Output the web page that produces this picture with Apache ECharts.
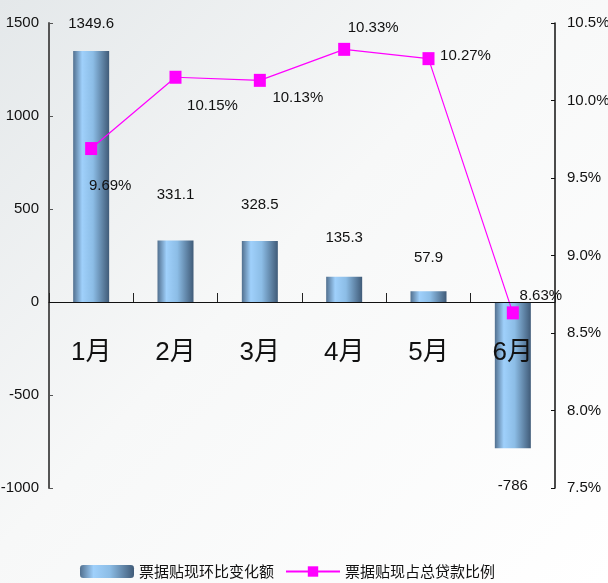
<!DOCTYPE html>
<html>
<head>
<meta charset="utf-8">
<script src="https://cdn.jsdelivr.net/npm/echarts@6/dist/echarts.min.js"></script>
<style>
  html, body { margin: 0; padding: 0; background: #fff; }
  #main { width: 608px; height: 583px; }
</style>
</head>
<body>
<div id="main"></div>
<script>
const months = ['1月', '2月', '3月', '4月', '5月', '6月']
const changeAmount = [1349.6, 331.1, 328.5, 135.3, 57.9, -786]
const loanRatio = [9.69, 10.15, 10.13, 10.33, 10.27, 8.63]
const leftTicks = { min: -1000, max: 1500, step: 500 }
const rightTicks = { min: 7.5, max: 10.5, step: 0.5 }

// label nudges
const barLabelShift = [-15, -33, -24, -26, -21, 25]
const lineLabelShift = [[19, 37], [37, 29], [38, 18], [29, -21], [37, -3], [28, -17]]

const FONT = '"Liberation Sans", Arial, "Noto Sans CJK SC", sans-serif'

const chart = echarts.init(document.getElementById('main'))

const barGradient = new echarts.graphic.LinearGradient(0, 0, 1, 0, [
  { offset: 0, color: '#52708f' },
  { offset: 0.25, color: '#9fd0fb' },
  { offset: 0.55, color: '#8cbde6' },
  { offset: 1, color: '#405b78' }
])

const barData = changeAmount.map((v, i) => ({
  value: v,
  label: {
    position: v < 0 ? 'bottom' : 'top',
    offset: [0, barLabelShift[i]]
  }
}))

const lineData = loanRatio.map((v, i) => ({
  value: v,
  label: { offset: lineLabelShift[i] }
}))

chart.setOption({
  backgroundColor: new echarts.graphic.LinearGradient(0, 0, 1, 1, [
    { offset: 0, color: '#e4e8ea' },
    { offset: 0.45, color: '#f7f8f8' },
    { offset: 1, color: '#ffffff' }
  ]),
  textStyle: { fontFamily: FONT },
  grid: { left: 49, right: 53, top: 23, bottom: 95, outerBoundsMode: 'none' },
  legend: {
    bottom: -1,
    left: 75,
    itemWidth: 54,
    itemHeight: 13,
    itemGap: 11,
    textStyle: { fontSize: 15, color: '#111', fontFamily: '"Noto Sans CJK SC", sans-serif' },
    data: ['票据贴现环比变化额', '票据贴现占总贷款比例']
  },
  xAxis: {
    type: 'category',
    data: months,
    z: 10,
    axisLine: { onZero: true, onZeroAxisIndex: 0, lineStyle: { color: '#111', width: 1 } },
    axisTick: { show: true, inside: true, length: 9, lineStyle: { color: '#222' } },
    axisLabel: { fontSize: 26, color: '#111', margin: -148, fontFamily: FONT }
  },
  yAxis: [
    {
      type: 'value',
      min: leftTicks.min,
      max: leftTicks.max,
      interval: leftTicks.step,
      splitLine: { show: false },
      axisLine: { show: true, lineStyle: { color: '#555', width: 2 } },
      axisTick: { show: true, inside: true, length: 4, lineStyle: { color: '#555' } },
      axisLabel: { fontSize: 15, color: '#111', margin: 10, formatter: v => String(v) }
    },
    {
      type: 'value',
      min: rightTicks.min,
      max: rightTicks.max,
      interval: rightTicks.step,
      splitLine: { show: false },
      axisLine: { show: true, lineStyle: { color: '#111', width: 1.5 } },
      axisTick: { show: true, inside: true, length: 4, lineStyle: { color: '#111' } },
      axisLabel: {
        fontSize: 15,
        color: '#111',
        margin: 12,
        formatter: v => v.toFixed(1) + '%'
      }
    }
  ],
  series: [
    {
      name: '票据贴现环比变化额',
      type: 'bar',
      yAxisIndex: 0,
      barWidth: 36,
      data: barData,
      itemStyle: { color: barGradient },
      label: {
        show: true,
        fontSize: 15,
        color: '#111',
        formatter: p => String(p.value)
      }
    },
    {
      name: '票据贴现占总贷款比例',
      type: 'line',
      yAxisIndex: 1,
      data: lineData,
      symbol: 'rect',
      symbolSize: [12, 13],
      lineStyle: { color: '#ff00ff', width: 1.2 },
      itemStyle: { color: '#ff00ff' },
      label: {
        show: true,
        position: 'inside',
        fontSize: 15,
        color: '#111',
        formatter: p => p.value.toFixed(2) + '%'
      },
      z: 3
    }
  ]
})
</script>
</body>
</html>
